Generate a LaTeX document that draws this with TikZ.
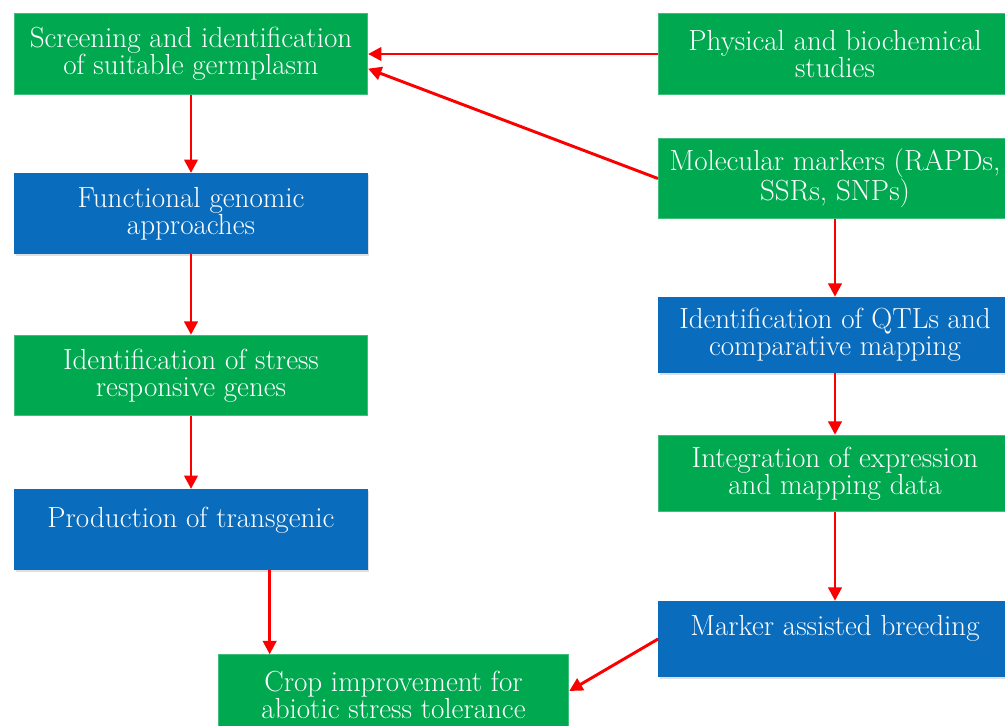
\documentclass[tikz,border=0pt]{standalone}
\usetikzlibrary{positioning, arrows.meta, shadows}
\definecolor{boxgreen}{RGB}{0, 168, 80}
\definecolor{boxblue}{RGB}{10, 108, 188}
\definecolor{arrowred}{RGB}{250, 0, 0}

\begin{document}
\begin{tikzpicture}[x=0.75pt, y=-0.75pt,
    box/.style={rectangle, text=white, align=center, inner sep=0pt,
        minimum width=265pt, minimum height=60.5pt,
        font=\fontsize{21.8}{20.5}\selectfont},
    greenbox/.style={box, fill=boxgreen, draw=boxgreen!75!white, line width=0.6pt},
    bluebox/.style={box, fill=boxblue,
        drop shadow={opacity=0.25, shadow xshift=1pt, shadow yshift=-1.5pt}},
    flow/.style={-{Triangle[length=10pt, width=10pt]}, arrowred, line width=2.2pt}]

    % Page: 1005 x 725 px
    \clip (0,0) rectangle (1005,725);
    \fill[white] (0,0) rectangle (1005,725);

    % Left column
    \node[greenbox] (screen) at (191, 54)
        {Screening and identification\\of suitable germplasm};
    \node[bluebox] (func) at (191, 213.5)
        {Functional genomic\\approaches};
    \node[greenbox] (stress) at (191, 375.5)
        {Identification of stress\\responsive genes};
    \node[bluebox, text depth=19pt] (prod) at (191, 529.5)
        {Production of transgenic};

    % Right column
    \node[greenbox] (phys) at (835, 54)
        {Physical and biochemical\\studies};
    \node[greenbox] (mol) at (835, 178.5)
        {Molecular markers (RAPDs,\\SSRs, SNPs)};
    \node[bluebox, minimum height=57pt] (qtl) at (835, 335)
        {Identification of QTLs and\\comparative mapping};
    \node[greenbox, minimum height=57.5pt] (integ) at (835, 473.5)
        {Integration of expression\\and mapping data};
    \node[bluebox, minimum height=57pt, text depth=20pt] (marker) at (835, 639)
        {Marker assisted breeding};

    % Final box
    \node[greenbox, minimum width=263pt] (crop) at (393.5, 695)
        {Crop improvement for\\abiotic stress tolerance};

    % Connectors
    \draw[flow] (phys.west) -- (screen.east);
    \draw[flow] (mol.west) -- ([yshift=-11pt]screen.east);
    \draw[flow] (screen.south) -- (func.north);
    \draw[flow] (func.south) -- (stress.north);
    \draw[flow] (stress.south) -- (prod.north);
    \draw[flow] ([xshift=59pt]prod.south) coordinate (p) -- (p |- crop.north);
    \draw[flow] (mol.south) -- (qtl.north);
    \draw[flow] (qtl.south) -- (integ.north);
    \draw[flow] (integ.south) -- (marker.north);
    \draw[flow] (marker.west) -- ([yshift=3pt]crop.east);

\end{tikzpicture}
\end{document}
